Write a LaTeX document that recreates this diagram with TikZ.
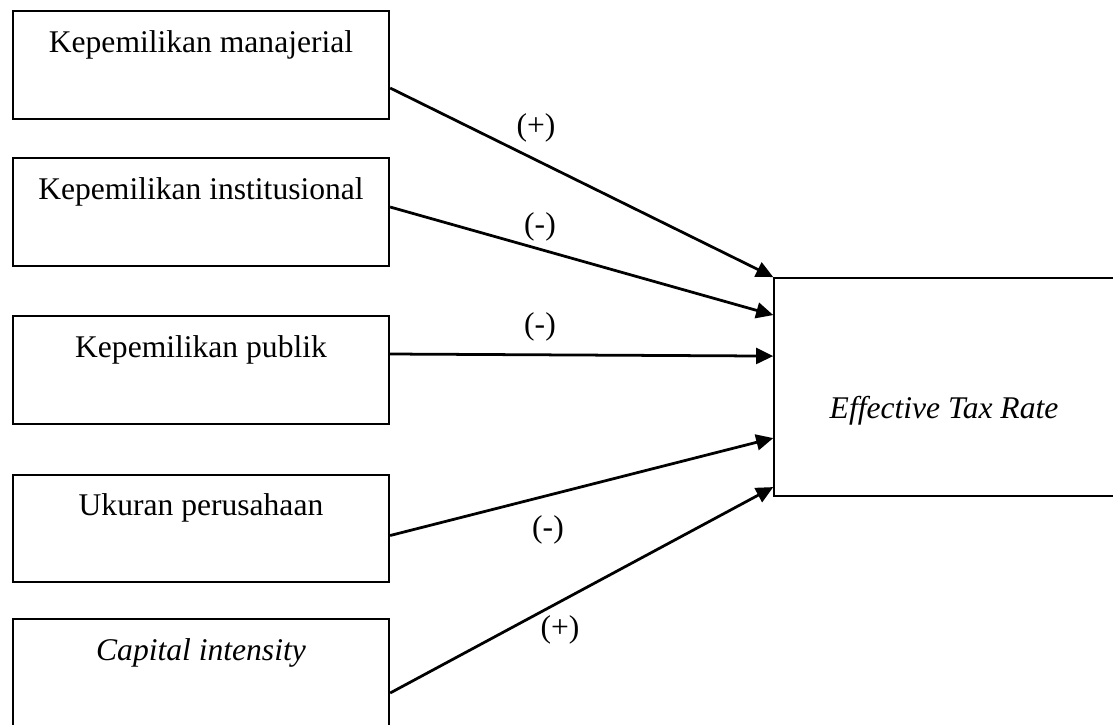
\documentclass[tikz,border=0pt]{standalone}
\usepackage{fontspec}
\setmainfont{Liberation Serif}
\usetikzlibrary{arrows.meta,calc}

\begin{document}
\begin{tikzpicture}[
    x=0.38pt, y=-0.38pt,
    every node/.style={font=\fontsize{12}{14}\selectfont},
    var/.style={draw, line width=0.75pt, minimum width=143pt, inner sep=4pt,
                text height=11.6pt, text depth=21.4pt},
    dep/.style={draw, line width=0.75pt, minimum width=129pt, inner sep=4pt,
                text height=49.2pt, text depth=25.6pt},
    arr/.style={-{Triangle[length=6.5pt,width=6pt]}, line width=1.05pt},
    sgn/.style={inner sep=1pt}
  ]
  \useasboundingbox (0,0) rectangle (1113,724);
  \node[var] (km) at (201,65)    {Kepemilikan manajerial};
  \node[var] (ki) at (201,212)   {Kepemilikan institusional};
  \node[var] (kp) at (201,370)   {Kepemilikan publik};
  \node[var] (uk) at (201,528.5) {Ukuran perusahaan};
  \node[var] (ci) at (201,673)   {\itshape Capital intensity};
  \node[dep] (etr) at (944,387)  {\itshape Effective Tax Rate};
  \draw[arr] ($(km.east)+(0,23)$)  -- (etr.north west);
  \draw[arr] ($(ki.east)+(0,-5)$)  -- ($(etr.north west)+(0,38)$);
  \draw[arr] ($(kp.east)+(0,-16)$) -- ($(etr.north west)+(0,79)$);
  \draw[arr] ($(uk.east)+(0,7)$)   -- ($(etr.north west)+(0,161)$);
  \draw[arr] ($(ci.east)+(0,20)$)  -- ($(etr.north west)+(0,210)$);
  \node[sgn] (s1) at (536,128) {(+)};
  \node[sgn] (s2) at (540,227) {(-)};
  \node[sgn] (s3) at (540,327) {(-)};
  \node[sgn] (s4) at (548,530) {(-)};
  \node[sgn] (s5) at (560,630) {(+)};
\end{tikzpicture}
\end{document}
